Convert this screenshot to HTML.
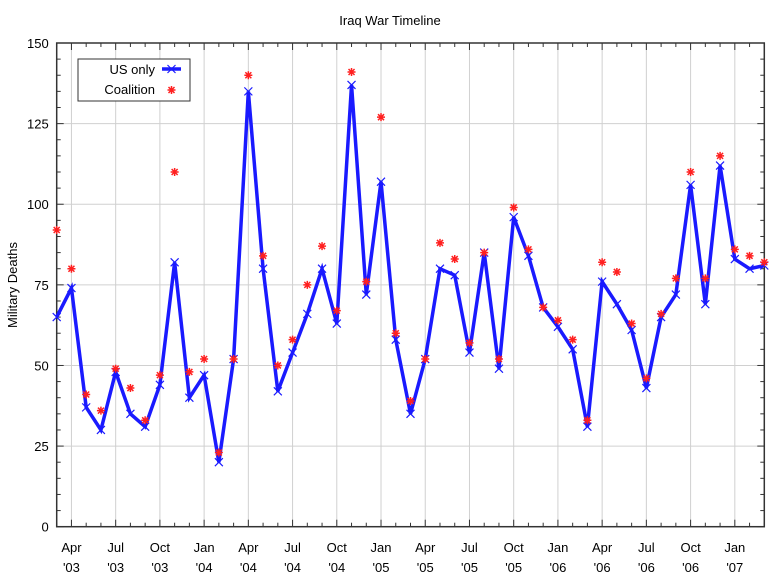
<!DOCTYPE html>
<html><head><meta charset="utf-8"><style>
body{margin:0;background:#fff;font-family:"Liberation Sans",sans-serif}
svg text{font-family:"Liberation Sans",sans-serif;fill:#000}
</style></head><body>
<svg id="c" width="781" height="579"></svg>
<script>
const months=["Mar","Apr","May","Jun","Jul","Aug","Sep","Oct","Nov","Dec","Jan","Feb"];
const usOnly=[65,74,37,30,48,35,31,44,82,40,47,20,52,135,80,42,54,66,80,63,137,72,107,58,35,52,80,78,54,85,49,96,84,68,62,55,31,76,69,61,43,65,72,106,69,112,83,80,81];
const coalition=[92,80,41,36,49,43,33,47,110,48,52,23,52,140,84,50,58,75,87,67,141,76,127,60,39,52,88,83,57,85,52,99,86,68,64,58,33,82,79,63,46,66,77,110,77,115,86,84,82];
const yTicks=[0,25,50,75,100,125,150];
const xTickMonths=["Apr","Jul","Oct","Jan"];
const NS="http://www.w3.org/2000/svg";
const svg=document.getElementById('c');
const L=56.7,R=764.3,T=43,B=526.7;
const n=usOnly.length;
const X=i=>L+i*(R-L)/(n-1);
const Y=v=>B-v*(B-T)/150;
function mk(t,a,p){const e=document.createElementNS(NS,t);for(const k in a)e.setAttribute(k,a[k]);(p||svg).appendChild(e);return e;}
// grid
for(const v of yTicks){if(v>0&&v<150){const g=mk('line',{x1:L,x2:R,y1:Y(v),y2:Y(v),stroke:'#d0d0d0','stroke-width':1});

}}
for(let i=0;i<n;i++){const m=months[i%12];if(xTickMonths.includes(m)){const g=mk('line',{x1:X(i),x2:X(i),y1:T,y2:B,stroke:'#d0d0d0','stroke-width':1});

}}
// minor y ticks
for(let v=0;v<=150;v+=5){const len=v%25===0?7:4;
mk('line',{x1:L,x2:L+len,y1:Y(v),y2:Y(v),stroke:'#333'});mk('line',{x1:R-len,x2:R,y1:Y(v),y2:Y(v),stroke:'#333'});}
for(const v of yTicks){const t=mk('text',{x:L-8,y:Y(v)+5,'text-anchor':'end','font-size':13});t.textContent=v;

}
// x ticks and labels
for(let i=0;i<n;i++){const m=months[i%12];const major=xTickMonths.includes(m);const len=major?7:4;
mk('line',{x1:X(i),x2:X(i),y1:B-len,y2:B,stroke:'#333'});mk('line',{x1:X(i),x2:X(i),y1:T,y2:T+len,stroke:'#333'});
if(major){const yr=2003+Math.floor((i+2)/12);
const t=mk('text',{x:X(i),y:552,'text-anchor':'middle','font-size':13});t.textContent=m;


const t2=mk('text',{x:X(i),y:572,'text-anchor':'middle','font-size':13});t2.textContent="'"+String(yr).slice(2);

}}
const fr=mk('rect',{x:L,y:T,width:R-L,height:B-T,fill:'none',stroke:'#333','stroke-width':1.5});


// line
const ln=mk('polyline',{points:usOnly.map((v,i)=>X(i)+','+Y(v)).join(' '),fill:'none',stroke:'#1a1aff','stroke-width':3.5,'stroke-linejoin':'miter'});


function xm(cx,cy,name){const g=mk('path',{d:`M${cx-4},${cy-4}L${cx+4},${cy+4}M${cx-4},${cy+4}L${cx+4},${cy-4}`,stroke:'#1a1aff','stroke-width':1.2});

}
function star(cx,cy,name){const g=mk('path',{d:`M${cx-4},${cy}L${cx+4},${cy}M${cx},${cy-4}L${cx},${cy+4}M${cx-3},${cy-3}L${cx+3},${cy+3}M${cx-3},${cy+3}L${cx+3},${cy-3}`,stroke:'#ff2020','stroke-width':1.5});

}
usOnly.forEach((v,i)=>xm(X(i),Y(v),'us-only-point'));
coalition.forEach((v,i)=>star(X(i),Y(v),'coalition-point'));
// legend
const lg=mk('rect',{x:78,y:59,width:112,height:42,fill:'#fff',stroke:'#333'});


let t=mk('text',{x:155,y:74,'text-anchor':'end','font-size':13});t.textContent='US only';


mk('line',{x1:162,x2:181,y1:69,y2:69,stroke:'#1a1aff','stroke-width':3.5});xm(171.5,69,'legend-us-marker');
t=mk('text',{x:155,y:94,'text-anchor':'end','font-size':13});t.textContent='Coalition';


star(171.5,90,'legend-coalition-marker');
t=mk('text',{x:390,y:25,'text-anchor':'middle','font-size':13});t.textContent='Iraq War Timeline';


t=mk('text',{x:17,y:285,'text-anchor':'middle','font-size':13,transform:'rotate(-90 17 285)'});t.textContent='Military Deaths';


</script></body></html>
